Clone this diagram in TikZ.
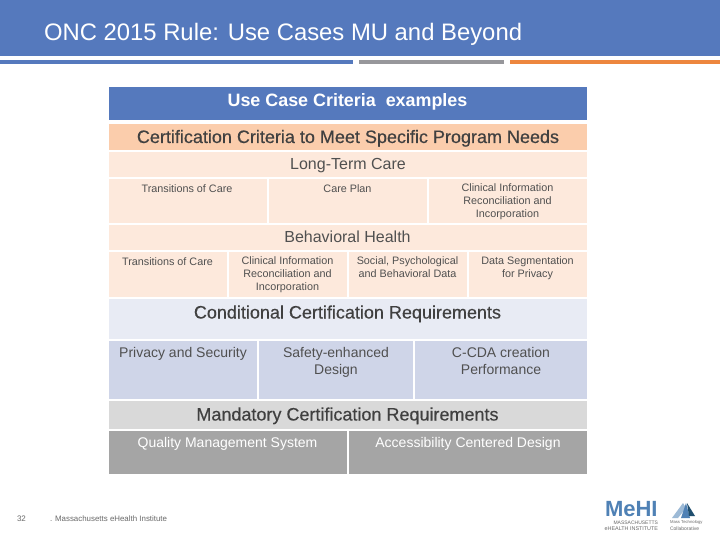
\documentclass[tikz,border=0pt]{standalone}
\usepackage{fontspec}
\setmainfont{Liberation Sans}
\newfontfamily\fakeb[FakeBold=0.4]{Liberation Sans}
\definecolor{blueband}{HTML}{5579BD}
\definecolor{greybar}{HTML}{97979B}
\definecolor{orangebar}{HTML}{ED863E}
\definecolor{peachhead}{HTML}{FBCDAC}
\definecolor{peachlight}{HTML}{FDE9DC}
\definecolor{bluehead}{HTML}{E8EBF4}
\definecolor{bluecell}{HTML}{CFD5E8}
\definecolor{greyhead}{HTML}{D9D9D9}
\definecolor{greycell}{HTML}{A5A5A5}
\definecolor{ink}{HTML}{404040}
\definecolor{softink}{HTML}{505050}
\definecolor{footgrey}{HTML}{6A6A6A}
\definecolor{logoblue}{HTML}{4F81B5}
\definecolor{logodark}{HTML}{1F4E6E}
\definecolor{logolight}{HTML}{9DBAD6}
\tikzset{
  x=1pt,y=-1pt,
  box/.style={rectangle,draw=none,inner sep=0pt,outer sep=0pt,anchor=north west},
  txt/.style={inner sep=0pt,outer sep=0pt,anchor=base,align=center,text=ink},
  small/.style={txt,text=softink,font=\fontsize{10.8}{13}\selectfont},
  mid/.style={txt,text=softink,font=\fontsize{14}{17}\selectfont},
  sect/.style={txt,text=softink,font=\fontsize{16}{19}\selectfont},
  head/.style={txt,font=\fakeb\fontsize{18}{21}\selectfont},
  logotext/.style={txt,text=footgrey,anchor=base east},
}
% name, x1, y1, x2, y2, fill
\newcommand{\cellbox}[6]{%
  \pgfmathsetmacro{\cw}{#4-#2}\pgfmathsetmacro{\ch}{#5-#3}%
  \node[box,fill=#6,minimum width=\cw pt,minimum height=\ch pt] (#1) at (#2,#3) {};}
\begin{document}
\begin{tikzpicture}
\useasboundingbox (0,0) rectangle (720,540);
\fill[white] (0,0) rectangle (720,540);
% banner
\cellbox{band}{0}{0}{720}{56}{blueband}
\cellbox{barA}{0}{60}{353}{64}{blueband}
\cellbox{barB}{359}{60}{504}{64}{greybar}
\cellbox{barC}{510}{60}{720}{64}{orangebar}
\node[txt,text=white,anchor=base west,font=\fontsize{23.85}{28}\selectfont] (title) at (44,40.5) {ONC 2015 Rule: Use Cases MU and Beyond};
% table cells
\cellbox{hdr}{109}{87}{587}{120}{blueband}
\cellbox{cert}{109}{124}{587}{150}{peachhead}
\cellbox{ltc}{109}{152}{587}{177}{peachlight}
\cellbox{ltcA}{109}{179}{267}{223}{peachlight}
\cellbox{ltcB}{269}{179}{427}{223}{peachlight}
\cellbox{ltcC}{429}{179}{587}{223}{peachlight}
\cellbox{bh}{109}{225}{587}{250}{peachlight}
\cellbox{bhA}{109}{252}{227}{297}{peachlight}
\cellbox{bhB}{229}{252}{347}{297}{peachlight}
\cellbox{bhC}{349}{252}{467}{297}{peachlight}
\cellbox{bhD}{469}{252}{587}{297}{peachlight}
\cellbox{cond}{109}{299}{587}{339}{bluehead}
\cellbox{condA}{109}{341}{257}{399}{bluecell}
\cellbox{condB}{259}{341}{413}{399}{bluecell}
\cellbox{condC}{415}{341}{587}{399}{bluecell}
\cellbox{mand}{109}{401}{587}{429}{greyhead}
\cellbox{mandA}{109}{431}{347}{474}{greycell}
\cellbox{mandB}{349}{431}{587}{474}{greycell}
% table text
\node[txt,text=white,font=\bfseries\fontsize{17.9}{21}\selectfont] (hdrT) at (347.5,106.5) {Use Case Criteria\ \ examples};
\node[head] (certT) at (348,143) {Certification Criteria to Meet Specific Program Needs};
\node[sect] (ltcT) at (348,170) {Long-Term Care};
\node[small] (ltcAT) at (187,192.5) {Transitions of Care};
\node[small] (ltcBT) at (347.5,192.5) {Care Plan};
\node[small,anchor=north] (ltcCT) at (507.5,183.5) {Clinical Information\\Reconciliation and\\Incorporation};
\node[sect] (bhT) at (347.5,243) {Behavioral Health};
\node[small] (bhAT) at (167.5,265) {Transitions of Care};
\node[small,anchor=north] (bhBT) at (287.5,256.5) {Clinical Information\\Reconciliation and\\Incorporation};
\node[small,anchor=north] (bhCT) at (407.5,256.5) {Social, Psychological\\and Behavioral Data};
\node[small,anchor=north] (bhDT) at (527.5,256.5) {Data Segmentation\\for Privacy};
\node[head] (condT) at (347.5,318.5) {Conditional Certification Requirements};
\node[mid] (condAT) at (183,357) {Privacy and Security};
\node[mid,anchor=north] (condBT) at (336,347.5) {Safety-enhanced\\Design};
\node[mid,anchor=north] (condCT) at (501,347.5) {C-CDA creation\\Performance};
\node[head] (mandT) at (347.5,420.5) {Mandatory Certification Requirements};
\node[mid,text=white] (mandAT) at (227.5,447) {Quality Management System};
\node[mid,text=white] (mandBT) at (468,447) {Accessibility Centered Design};
% footer
\node[txt,text=footgrey,font=\fontsize{8}{10}\selectfont] (pg) at (21.5,521) {32};
\node[txt,text=footgrey,anchor=base west,font=\fontsize{7.9}{9}\selectfont] (foot) at (50,521) {. Massachusetts eHealth Institute};
% logo
\node[txt,text=logoblue,anchor=base west,font=\bfseries\fontsize{22}{22}\selectfont] (mehi) at (605,516.5) {MeHI};
\node[logotext,font=\fontsize{5}{5}\selectfont] (mehiA) at (658,524) {MASSACHUSETTS};
\node[logotext,font=\fontsize{5.4}{5.4}\selectfont] (mehiB) at (658,530.5) {eHEALTH INSTITUTE};
\fill[logolight] (672,518) -- (683,503) -- (686,508) -- (678,518) -- cycle;
\fill[logoblue] (681,518) -- (686,503) -- (690,518) -- cycle;
\fill[logodark] (687,503) -- (695,516) -- (689,516) -- cycle;
\node[txt,text=footgrey,anchor=base west,font=\fontsize{4.2}{5}\selectfont] (mtA) at (670,523.5) {Mass Technology};
\node[txt,text=footgrey,anchor=base west,font=\fontsize{5}{5}\selectfont] (mtB) at (670,530.5) {Collaborative};
\end{tikzpicture}
\end{document}
